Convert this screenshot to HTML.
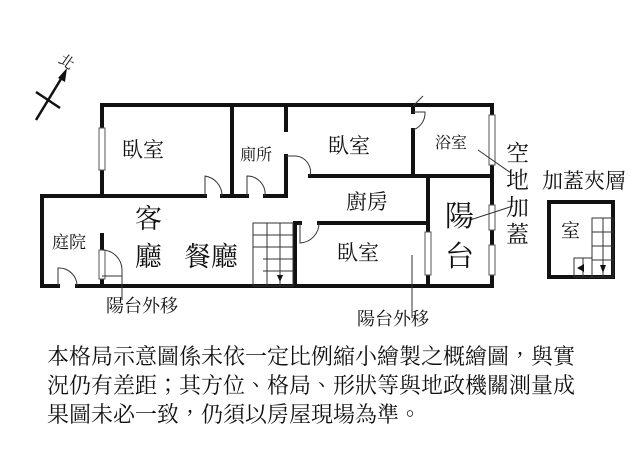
<!DOCTYPE html>
<html><head><meta charset="utf-8"><style>
html,body{margin:0;padding:0;background:#fff;}
svg{display:block;}
text{font-family:"Liberation Serif","Noto Serif CJK TC","Noto Serif CJK SC","Noto Sans CJK TC",serif;fill:#111;}
</style></head><body>
<svg width="640" height="475" viewBox="0 0 640 475" xmlns="http://www.w3.org/2000/svg">
<rect width="640" height="475" fill="#fff"/>
<g stroke="#111" stroke-width="2.5" fill="none">
<line x1="36" y1="120" x2="64" y2="74"/>
<line x1="36" y1="92" x2="60" y2="108"/>
</g>
<polygon points="67,68 58,78 65,82" fill="#111"/>
<text x="60" y="66" font-size="15" transform="rotate(35 66 60)">北</text>

<g stroke="#111" stroke-width="4" fill="none" stroke-linecap="square">
<line x1="102" y1="105" x2="492" y2="105"/>
<line x1="102" y1="105" x2="102" y2="128"/>
<line x1="102" y1="170" x2="102" y2="196"/>
<line x1="102" y1="235" x2="102" y2="250"/>
<line x1="102" y1="279" x2="102" y2="286"/>
<line x1="42" y1="196" x2="205" y2="196"/>
<line x1="222" y1="196" x2="247" y2="196"/>
<line x1="265" y1="196" x2="286" y2="196"/>
<line x1="232" y1="105" x2="232" y2="196"/>
<line x1="286" y1="105" x2="286" y2="130"/>
<line x1="286" y1="156" x2="286" y2="196"/>
<line x1="310" y1="176" x2="492" y2="176"/>
<line x1="42" y1="196" x2="42" y2="286"/>
<line x1="42" y1="286" x2="58" y2="286"/>
<line x1="77" y1="286" x2="492" y2="286"/>
<line x1="413" y1="105" x2="413" y2="112"/>
<line x1="413" y1="130" x2="413" y2="176"/>
<line x1="492" y1="105" x2="492" y2="286"/>
<line x1="428" y1="176" x2="428" y2="232"/>
<line x1="428" y1="275" x2="428" y2="286"/>
<line x1="319" y1="223" x2="428" y2="223"/>
<line x1="295" y1="223" x2="300" y2="223"/>
<line x1="295" y1="223" x2="295" y2="286"/>
<rect x="549" y="202" width="64" height="75"/>
</g>
<g fill="#fff" stroke="#555" stroke-width="1">
<rect x="99" y="128" width="6" height="42"/>
<rect x="99" y="250" width="6" height="29"/>
<rect x="425" y="232" width="6" height="43"/>
<rect x="489" y="115" width="6" height="50"/>
<rect x="489" y="205" width="6" height="25"/>
<rect x="489" y="245" width="6" height="30"/>
</g>
<g stroke="#333" stroke-width="1" fill="none">
<path d="M205 196 V176 A20 20 0 0 1 222 196"/>
<path d="M247 196 V176 A18 18 0 0 1 265 196"/>
<path d="M286 156 H296 A16 16 0 0 1 310 176"/>
<path d="M413 112 H425 A18 18 0 0 1 413 130"/>
<path d="M413 106 L423 96"/>
<path d="M300 223 V243 A20 20 0 0 0 319 223"/>
<path d="M58 286 V268 A18 18 0 0 1 77 286"/>
<path d="M102 250 A20 20 0 0 1 122 270 M102 276 H122 M122 270 V300"/>
<path d="M412 255 V318"/>
<line x1="478" y1="150" x2="511" y2="173"/>
<line x1="470" y1="220" x2="513" y2="206"/>
</g>
<g stroke="#333" stroke-width="1" fill="none">
<rect x="253" y="223" width="40" height="63"/>
<line x1="253" y1="235" x2="293" y2="235"/>
<line x1="253" y1="247" x2="293" y2="247"/>
<line x1="263" y1="259" x2="293" y2="259"/>
<line x1="263" y1="271" x2="293" y2="271"/>
<line x1="267" y1="223" x2="267" y2="286"/>
<line x1="280" y1="223" x2="280" y2="286"/>
<rect x="592" y="218" width="21" height="59"/>
<line x1="592" y1="232" x2="613" y2="232"/>
<line x1="592" y1="246" x2="613" y2="246"/>
<line x1="592" y1="260" x2="613" y2="260"/>
<line x1="603" y1="218" x2="603" y2="277"/>
<rect x="574" y="258" width="18" height="19"/>
<line x1="583" y1="258" x2="583" y2="277"/>
</g>
<polygon points="277,275 283,275 280,282" fill="#111"/>
<polygon points="600,265 606,265 603,273" fill="#111"/>
<polygon points="577,268 584,264 584,272" fill="#111"/>
<text x="122" y="157" font-size="21">臥室</text>
<text x="240" y="160" font-size="16">廁所</text>
<text x="328" y="153" font-size="21">臥室</text>
<text x="435" y="148" font-size="16">浴室</text>
<text x="346" y="209" font-size="21">廚房</text>
<text x="337" y="260" font-size="21">臥室</text>
<text x="52" y="248" font-size="17">庭院</text>
<text x="135" y="228" font-size="27">客</text>
<text x="135" y="266" font-size="27">廳</text>
<text x="184" y="266" font-size="27">餐廳</text>
<text x="445" y="226" font-size="29">陽</text>
<text x="445" y="266" font-size="29">台</text>
<text x="506" y="161" font-size="23">空</text>
<text x="506" y="188" font-size="23">地</text>
<text x="506" y="215" font-size="23">加</text>
<text x="506" y="242" font-size="23">蓋</text>
<text x="542" y="188" font-size="21">加蓋夾層</text>
<text x="561" y="237" font-size="19">室</text>
<text x="106" y="312" font-size="18">陽台外移</text>
<text x="357" y="325" font-size="18">陽台外移</text>
<g font-size="22">
<text x="47" y="364">本格局示意圖係未依一定比例縮小繪製之概繪圖，與實</text>
<text x="47" y="393">況仍有差距；其方位、格局、形狀等與地政機關測量成</text>
<text x="47" y="422">果圖未必一致，仍須以房屋現場為準。</text>
</g>
</svg>
</body></html>
